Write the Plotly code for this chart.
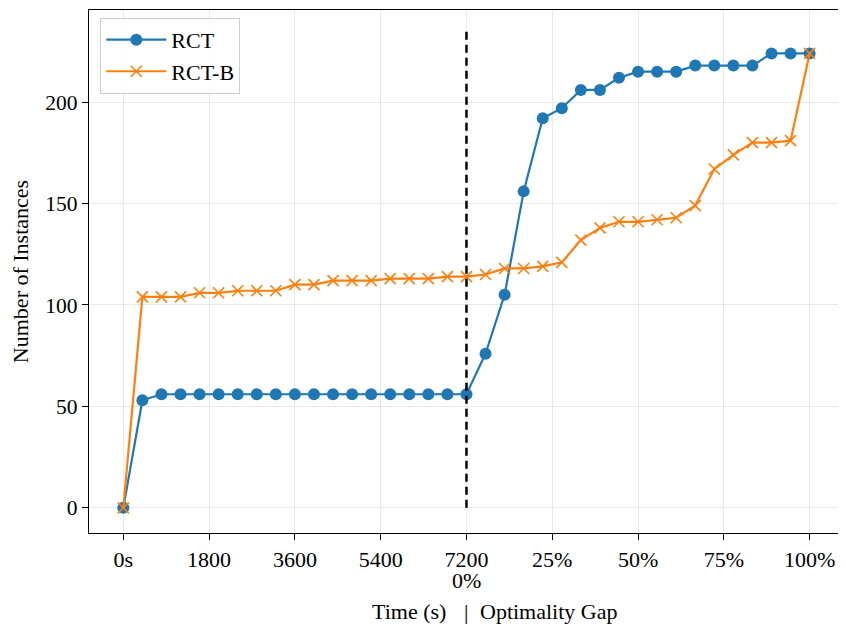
import plotly.graph_objects as go

# ---- data ----
time_step_s = 400          # time samples every 400 s up to 7200 s
n_time_steps = 18
gap_step_pct = 100 / 18    # gap samples from 0% to 100%
n_gap_steps = 18

rct = [0, 53, 56, 56, 56, 56, 56, 56, 56, 56, 56, 56, 56, 56, 56, 56, 56, 56, 56,
       76, 105, 156, 192, 197, 206, 206, 212, 215, 215, 215, 218, 218, 218, 218, 224, 224, 224]
rct_b = [0, 104, 104, 104, 106, 106, 107, 107, 107, 110, 110, 112, 112, 112, 113, 113, 113, 114, 114,
         115, 118, 118, 119, 121, 132, 138, 141, 141, 142, 143, 149, 167, 174, 180, 180, 181, 224]

time_ticks = [0, 1800, 3600, 5400, 7200]
time_tick_labels = ["0s", "1800", "3600", "5400", "7200"]
gap_start_label = "0%"
gap_ticks = [25, 50, 75, 100]
gap_tick_labels = ["25%", "50%", "75%", "100%"]
x_title_left = "Time (s)"
x_title_right = "Optimality Gap"
y_title = "Number of Instances"

# ---- positions on the combined axis (index units) ----
x_pos = list(range(n_time_steps + n_gap_steps + 1))
tickvals = [t / time_step_s for t in time_ticks] + [n_time_steps + g / gap_step_pct for g in gap_ticks]
ticktext = time_tick_labels + gap_tick_labels
split_x = time_ticks[-1] / time_step_s

FONT = "Liberation Serif, Times New Roman, serif"
BLUE = "#1f77b4"
ORANGE = "#ff7f0e"
FS = 22

fig = go.Figure()
fig.add_trace(go.Scatter(
    x=x_pos, y=rct, mode="lines+markers", name="RCT",
    line=dict(color=BLUE, width=2.2),
    marker=dict(symbol="circle", size=12, color=BLUE),
))
fig.add_trace(go.Scatter(
    x=x_pos, y=rct_b, mode="lines+markers", name="RCT-B",
    line=dict(color=ORANGE, width=2.2),
    marker=dict(symbol="x-thin", size=11, color=ORANGE, line=dict(color=ORANGE, width=1.6)),
))

fig.add_shape(type="line", xref="x", yref="y",
              x0=split_x, x1=split_x, y0=0, y1=max(rct) * 1.05,
              line=dict(color="black", width=2.5, dash="8px,5px"))

axis_common = dict(
    showline=True, linecolor="black", linewidth=1.3, mirror=True,
    ticks="outside", ticklen=6, tickwidth=1.2, tickcolor="black",
    showgrid=True, gridcolor="#e8e8e8", gridwidth=1,
    zeroline=False, automargin=False,
    tickfont=dict(family=FONT, size=FS, color="black"),
)

fig.update_xaxes(
    **axis_common,
    range=[-1.8, 37.75],
    tickmode="array", tickvals=tickvals, ticktext=ticktext,
)
fig.update_yaxes(
    **axis_common,
    range=[-12.4, 245.4],
    tickmode="array", tickvals=[0, 50, 100, 150, 200],
    tickfont_size=21.5,
    title=dict(text=y_title, font=dict(family=FONT, size=FS, color="black"), standoff=10),
)

# second line under the 7200 tick and the split x-axis title
txt = dict(family=FONT, size=FS, color="black")
fig.add_annotation(x=split_x, xref="x", y=0, yref="paper", text=gap_start_label,
                   showarrow=False, yanchor="middle", yshift=-47, font=txt)
fig.add_annotation(x=split_x, xref="x", y=0, yref="paper", text="|",
                   showarrow=False, yanchor="middle", yshift=-78, font=txt)
fig.add_annotation(x=split_x, xref="x", y=0, yref="paper", text=x_title_left,
                   showarrow=False, xanchor="right", xshift=-18, yanchor="middle", yshift=-78, font=txt)
fig.add_annotation(x=split_x, xref="x", y=0, yref="paper", text=x_title_right,
                   showarrow=False, xanchor="left", xshift=12, yanchor="middle", yshift=-78, font=txt)

# page body has an 8px margin, so the figure is 838x618 and starts at (8, 8)
fig.update_layout(
    width=838, height=618,
    margin=dict(l=81, r=3, t=2, b=93),
    plot_bgcolor="white", paper_bgcolor="white",
    font=dict(family=FONT, size=FS, color="black"),
    legend=dict(
        x=0.015, y=0.985, xanchor="left", yanchor="top",
        bgcolor="rgba(255,255,255,0.85)", bordercolor="#cccccc", borderwidth=1,
        font=dict(family=FONT, size=FS, color="black"),
        itemwidth=60, tracegroupgap=2,
    ),
    showlegend=True,
)

fig.write_html("out.html")
